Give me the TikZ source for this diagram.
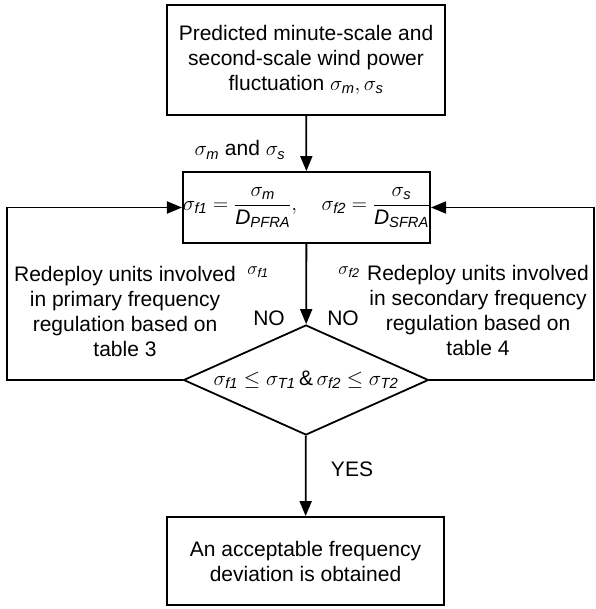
\documentclass[tikz,border=0pt]{standalone}
\usepackage{fix-cm}
\usepackage{amsmath}
\usepackage{fontspec}
\setmainfont{Liberation Sans}
\usetikzlibrary{shapes.geometric,arrows.meta}

\newcommand{\si}[1]{\text{\itshape #1}}

\tikzset{
  box/.style={draw, line width=1.8pt, align=center, inner sep=0pt},
  arr/.style={line width=1.8pt, -{Triangle[length=15pt,width=12pt]}},
  lbl/.style={align=center, inner sep=0pt}
}

\begin{document}
\begin{tikzpicture}[x=1pt, y=-1pt, every node/.style={font=\fontsize{21}{25}\selectfont}]
  \useasboundingbox (0,0) rectangle (595,609);
  % boxes
  \node[box, minimum width=278pt, minimum height=110pt] (pred) at (306,60)
    {Predicted minute-scale and\\second-scale wind power\\fluctuation $\sigma_{\si{m}},\sigma_{\si{s}}$};
  \node[box, minimum width=247pt, minimum height=71pt] (ratio) at (306.5,207.5)
    {$\sigma_{\si{f1}}=\dfrac{\sigma_{\si{m}}}{\si{D}_{\si{PFRA}}},\quad
      \sigma_{\si{f2}}=\dfrac{\sigma_{\si{s}}}{\si{D}_{\si{SFRA}}}$};
  \node[box, diamond, aspect=2.23, minimum width=245pt, minimum height=110pt] (check) at (306,380)
    {$\sigma_{\si{f1}}\le\sigma_{\si{T1}}$\,\&\,$\sigma_{\si{f2}}\le\sigma_{\si{T2}}$};
  \node[box, minimum width=277pt, minimum height=88pt] (done) at (305.5,561)
    {An acceptable frequency\\deviation is obtained};
  % loop corners
  \coordinate (lc) at (7,380);
  \coordinate (rc) at (594,380);
  % arrows
  \draw[arr] (pred) -- (ratio);
  \draw[arr] (ratio) -- (check);
  \draw[arr] (check) -- (done);
  \draw[arr] (check.west) -- (lc) |- (ratio.west);
  \draw[arr] (check.east) -- (rc) |- (ratio.east);
  % labels
  \node[lbl] (inp) at (240,150) {$\sigma_{\si{m}}$ and $\sigma_{\si{s}}$};
  \node[lbl] (noL) at (269,318) {NO};
  \node[lbl] (noR) at (343,318) {NO};
  \node[lbl] (yes) at (352,469) {YES};
  \node[lbl, font=\fontsize{18}{21}\selectfont] (sf1) at (258,272) {$\sigma_{\si{f1}}$};
  \node[lbl, font=\fontsize{18}{21}\selectfont] (sf2) at (349,272) {$\sigma_{\si{f2}}$};
  \node[lbl] (redL) at (125,311)
    {Redeploy units involved\\in primary frequency\\regulation based on\\table 3};
  \node[lbl] (redR) at (478,310)
    {Redeploy units involved\\in secondary frequency\\regulation based on\\table 4};
\end{tikzpicture}
\end{document}
